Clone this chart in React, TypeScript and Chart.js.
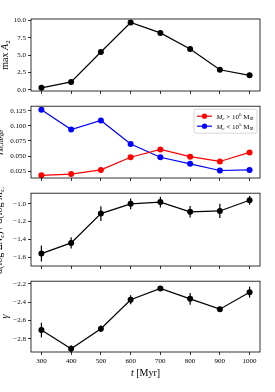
import React, { useEffect, useRef } from "react";
import { Chart, registerables } from "chart.js";
Chart.register(...registerables);

// ---------- data ----------
const times = [300, 400, 500, 600, 700, 800, 900, 1000];
const maxA2 = [0.3, 1.15, 5.45, 9.7, 8.2, 5.9, 2.9, 2.1];
const fLargeHigh = [0.018, 0.02, 0.027, 0.048, 0.061, 0.049, 0.041, 0.056];
const fLargeLow = [0.127, 0.094, 0.109, 0.07, 0.048, 0.037, 0.026, 0.027];
const slope = [-1.56, -1.44, -1.11, -1.0, -0.98, -1.09, -1.08, -0.96];
const slopeErr = [0.09, 0.064, 0.084, 0.06, 0.06, 0.065, 0.08, 0.05];
const gamma = [-2.705, -2.91, -2.69, -2.373, -2.249, -2.363, -2.476, -2.29];
const gammaErr = [0.08, 0.04, 0.035, 0.05, 0.02, 0.065, 0.02, 0.06];

const xTicks = [300, 400, 500, 600, 700, 800, 900, 1000];
const xTickLabels = ["300", "400", "500", "600", "700", "800", "900", "1000"];
const yTicks1 = [0, 2.5, 5, 7.5, 10];
const yTickLabels1 = ["0.0", "2.5", "5.0", "7.5", "10.0"];
const yTicks2 = [0.025, 0.05, 0.075, 0.1, 0.125];
const yTickLabels2 = ["0.025", "0.050", "0.075", "0.100", "0.125"];
const yTicks3 = [-1.6, -1.4, -1.2, -1.0];
const yTickLabels3 = ["\u22121.6", "\u22121.4", "\u22121.2", "\u22121.0"];
const yTicks4 = [-2.8, -2.6, -2.4, -2.2];
const yTickLabels4 = ["\u22122.8", "\u22122.6", "\u22122.4", "\u22122.2"];

const legendHigh = "high";
const legendLow = "low";

// ---------- helpers ----------
const FAM = "'Liberation Serif', 'DejaVu Serif', serif";
type Seg = { t: string; s?: number; it?: boolean; dy?: number };

function drawRich(
  ctx: CanvasRenderingContext2D,
  segs: Seg[],
  x: number,
  y: number,
  rot: number,
  align: "center" | "left",
  base: number
) {
  ctx.save();
  ctx.translate(x, y);
  if (rot) ctx.rotate(rot);
  const fonts = segs.map((g) => `${g.it ? "italic " : ""}${g.s ?? base}px ${FAM}`);
  const widths = segs.map((g, i) => {
    ctx.font = fonts[i];
    return ctx.measureText(g.t).width;
  });
  const w = widths.reduce((a, b) => a + b, 0);
  let cx = align === "center" ? -w / 2 : 0;
  ctx.textAlign = "left";
  ctx.textBaseline = "alphabetic";
  ctx.fillStyle = "#000";
  segs.forEach((g, i) => {
    ctx.font = fonts[i];
    ctx.fillText(g.t, cx, base * 0.35 + (g.dy ?? 0));
    cx += widths[i];
  });
  ctx.restore();
}

const framePlugin = {
  id: "frame",
  afterDraw(chart: any) {
    const { ctx, chartArea: ca } = chart;
    ctx.save();
    ctx.strokeStyle = "#000";
    ctx.lineWidth = 0.8;
    ctx.strokeRect(ca.left, ca.top, ca.right - ca.left, ca.bottom - ca.top);
    ctx.restore();
  },
};

const errorBarPlugin = {
  id: "errbars",
  beforeDatasetsDraw(chart: any) {
    const { ctx } = chart;
    const xs = chart.scales.x;
    const ys = chart.scales.y;
    chart.data.datasets.forEach((ds: any) => {
      if (!ds.errors) return;
      ctx.save();
      ctx.strokeStyle = ds.borderColor;
      ctx.lineWidth = 1.2;
      ds.data.forEach((p: any, i: number) => {
        const e = ds.errors[i];
        const px = xs.getPixelForValue(p.x);
        ctx.beginPath();
        ctx.moveTo(px, ys.getPixelForValue(p.y - e));
        ctx.lineTo(px, ys.getPixelForValue(p.y + e));
        ctx.stroke();
      });
      ctx.restore();
    });
  },
};

const labelPlugin = {
  id: "labels",
  afterDraw(chart: any, _args: any, opts: any) {
    const { ctx, chartArea: ca } = chart;
    if (opts.ySegs) {
      drawRich(ctx, opts.ySegs, opts.yLabelX, (ca.top + ca.bottom) / 2, -Math.PI / 2, "center", 10);
    }
    if (opts.xSegs) {
      drawRich(ctx, opts.xSegs, (ca.left + ca.right) / 2, opts.xLabelY, 0, "center", 10);
    }
    if (opts.legend) {
      const bx = ca.right - 66;
      const by = ca.top + 3;
      const bw = 63;
      const bh = 24;
      ctx.save();
      ctx.fillStyle = "rgba(255,255,255,0.85)";
      ctx.strokeStyle = "#cccccc";
      ctx.lineWidth = 0.8;
      ctx.beginPath();
      (ctx as any).roundRect(bx, by, bw, bh, 2);
      ctx.fill();
      ctx.stroke();
      ctx.restore();
      const rows = [
        { ds: chart.data.datasets[0], segs: [
          { t: "M", it: true }, { t: "c", it: true, s: 5, dy: 1.5 }, { t: " > 10" },
          { t: "6", s: 5, dy: -3 }, { t: " M" }, { t: "\u2299", s: 5, dy: 1.5 },
        ] },
        { ds: chart.data.datasets[1], segs: [
          { t: "M", it: true }, { t: "c", it: true, s: 5, dy: 1.5 }, { t: " < 10" },
          { t: "5", s: 5, dy: -3 }, { t: " M" }, { t: "\u2299", s: 5, dy: 1.5 },
        ] },
      ];
      rows.forEach((r, i) => {
        const yy = by + 7 + i * 10;
        ctx.save();
        ctx.strokeStyle = r.ds.borderColor;
        ctx.fillStyle = r.ds.borderColor;
        ctx.lineWidth = 1.2;
        ctx.beginPath();
        ctx.moveTo(bx + 3, yy);
        ctx.lineTo(bx + 18, yy);
        ctx.stroke();
        ctx.beginPath();
        ctx.arc(bx + 10.5, yy, 2.6, 0, Math.PI * 2);
        ctx.fill();
        ctx.restore();
        drawRich(ctx, r.segs as Seg[], bx + 22.5, yy, 0, "left", 7);
      });
    }
  },
};

type PanelCfg = {
  top: number;
  height: number;
  padTop: number;
  xHeight: number;
  showX: boolean;
  yMin: number;
  yMax: number;
  yTicks: number[];
  yTickLabels: string[];
  datasets: any[];
  ySegs: Seg[];
  yLabelX: number;
  xSegs?: Seg[];
  xLabelY?: number;
  legend?: boolean;
};

const W = 275;

function mkSeries(vals: number[], color: string, label: string, errs?: number[]) {
  return {
    label,
    data: times.map((t, i) => ({ x: t, y: vals[i] })),
    borderColor: color,
    backgroundColor: color,
    borderWidth: 1.2,
    pointRadius: 3,
    pointBorderWidth: 0,
    pointHoverRadius: 3,
    tension: 0,
    errors: errs,
  };
}

function Panel({ cfg }: { cfg: PanelCfg }) {
  const ref = useRef<HTMLCanvasElement>(null);
  useEffect(() => {
    const tickFont = { family: FAM, size: 7 };
    const chart = new Chart(ref.current!, {
      type: "line",
      data: { datasets: cfg.datasets },
      options: {
        animation: false,
        responsive: false,
        events: [],
        layout: { padding: { top: cfg.padTop, right: 15, left: 0, bottom: 0 } },
        plugins: {
          legend: { display: false },
          tooltip: { enabled: false },
          labels: {
            ySegs: cfg.ySegs,
            yLabelX: cfg.yLabelX,
            xSegs: cfg.xSegs,
            xLabelY: cfg.xLabelY,
            legend: cfg.legend,
          },
        } as any,
        scales: {
          x: {
            type: "linear",
            min: 265,
            max: 1035,
            afterBuildTicks: (s: any) => {
              s.ticks = xTicks.map((v) => ({ value: v }));
            },
            afterFit: (s: any) => {
              s.height = cfg.xHeight;
            },
            ticks: {
              display: cfg.showX,
              font: tickFont,
              color: "#000",
              padding: 2,
              maxRotation: 0,
              autoSkip: false,
              callback: (_v: any, i: number) => xTickLabels[i],
            },
            grid: {
              drawOnChartArea: false,
              drawTicks: true,
              tickLength: 3,
              color: "#000",
              lineWidth: 0.8,
            },
            border: { display: false },
          },
          y: {
            type: "linear",
            min: cfg.yMin,
            max: cfg.yMax,
            afterBuildTicks: (s: any) => {
              s.ticks = cfg.yTicks.map((v) => ({ value: v }));
            },
            afterFit: (s: any) => {
              s.width = 31;
            },
            ticks: {
              font: tickFont,
              color: "#000",
              padding: 2,
              autoSkip: false,
              callback: (_v: any, i: number) => cfg.yTickLabels[i],
            },
            grid: {
              drawOnChartArea: false,
              drawTicks: true,
              tickLength: 3,
              color: "#000",
              lineWidth: 0.8,
            },
            border: { display: false },
          },
        },
      },
      plugins: [framePlugin, errorBarPlugin, labelPlugin],
    } as any);
    return () => chart.destroy();
  }, [cfg]);
  return (
    <canvas
      ref={ref}
      width={W}
      height={cfg.height}
      style={{ position: "absolute", left: 0, top: cfg.top, width: W, height: cfg.height }}
    />
  );
}

const panels: PanelCfg[] = [
  {
    top: 0, height: 100, padTop: 19, xHeight: 9, showX: false,
    yMin: -0.15, yMax: 10.2, yTicks: yTicks1, yTickLabels: yTickLabels1,
    datasets: [mkSeries(maxA2, "#000000", "maxA2")],
    ySegs: [{ t: "max " }, { t: "A", it: true }, { t: "2", s: 7, dy: 2 }],
    yLabelX: 4.5,
  },
  {
    top: 100, height: 87, padTop: 6, xHeight: 9, showX: false,
    yMin: 0.0135, yMax: 0.1328, yTicks: yTicks2, yTickLabels: yTickLabels2,
    datasets: [mkSeries(fLargeHigh, "#ff0000", legendHigh), mkSeries(fLargeLow, "#0000ff", legendLow)],
    ySegs: [{ t: "f", it: true }, { t: "M,large", s: 7, dy: 2, it: true }],
    yLabelX: -2.5,
    legend: true,
  },
  {
    top: 187, height: 88, padTop: 6, xHeight: 9, showX: false,
    yMin: -1.70, yMax: -0.88, yTicks: yTicks3, yTickLabels: yTickLabels3,
    datasets: [mkSeries(slope, "#000000", "slope", slopeErr)],
    ySegs: [
      { t: "d(log \u03a3", it: false }, { t: "N", it: true }, { t: "c", s: 7, dy: 2, it: true },
      { t: ") / d(log " }, { t: "M", it: true }, { t: "c", s: 7, dy: 2, it: true }, { t: ")" },
    ],
    yLabelX: -2,
  },
  {
    top: 275, height: 117, padTop: 4, xHeight: 40, showX: true,
    yMin: -2.945, yMax: -2.17, yTicks: yTicks4, yTickLabels: yTickLabels4,
    datasets: [mkSeries(gamma, "#000000", "gamma", gammaErr)],
    ySegs: [{ t: "\u03b3", it: true }],
    yLabelX: 4.5,
    xSegs: [{ t: "t", it: true }, { t: " [Myr]" }],
    xLabelY: 97,
  },
];

export default function App() {
  return (
    <div style={{ position: "absolute", left: 0, top: 0, width: W, height: 392, background: "#fff", overflow: "hidden" }}>
      {panels.map((p, i) => (
        <Panel key={i} cfg={p} />
      ))}
    </div>
  );
}
